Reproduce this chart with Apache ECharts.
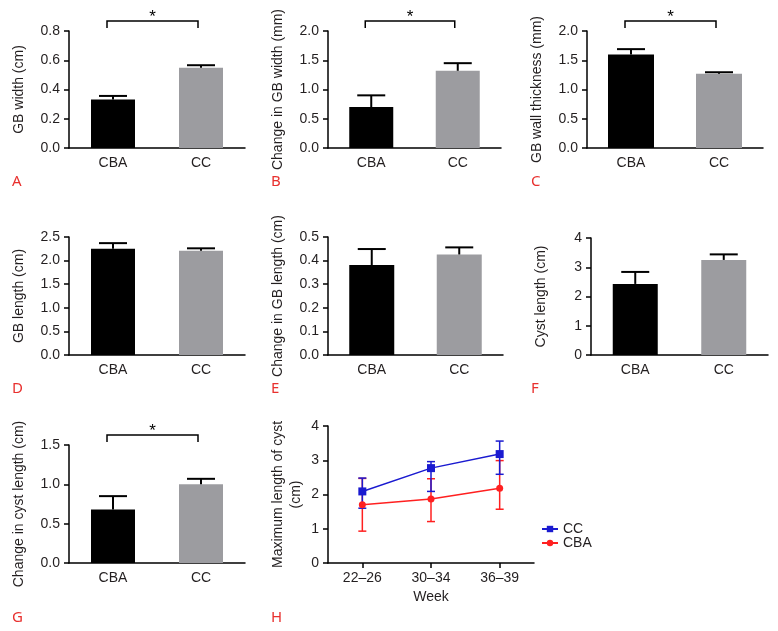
<!DOCTYPE html>
<html>
<head>
<meta charset="utf-8">
<script src="https://cdn.jsdelivr.net/npm/echarts@6/dist/echarts.min.js"></script>
<style>
  html, body { margin: 0; padding: 0; background: #fff; }
  #chart { width: 778px; height: 631px; }
</style>
</head>
<body>
<div id="chart"></div>
<script>
// group names on the bar panels
const barCats = ['CBA', 'CC'];

// bar panels A-G: mean and upper error
const gbWidth = [0.332, 0.548];
const gbWidthErr = [0.024, 0.018];
const gbWidthChange = [0.70, 1.32];
const gbWidthChangeErr = [0.20, 0.13];
const wallThickness = [1.60, 1.27];
const wallThicknessErr = [0.09, 0.025];
const gbLength = [2.25, 2.21];
const gbLengthErr = [0.12, 0.05];
const gbLengthChange = [0.381, 0.426];
const gbLengthChangeErr = [0.068, 0.030];
const cystLength = [2.43, 3.25];
const cystLengthErr = [0.41, 0.19];
const cystLengthChange = [0.68, 1.00];
const cystLengthChangeErr = [0.17, 0.07];

// panel H: cyst length by week
const weeks = ['22\u201326', '30\u201334', '36\u201339'];
const ccMean = [2.09, 2.77, 3.18];
const ccLow = [1.60, 2.09, 2.59];
const ccHigh = [2.48, 2.96, 3.56];
const cbaMean = [1.70, 1.87, 2.18];
const cbaLow = [0.93, 1.21, 1.57];
const cbaHigh = [2.47, 2.46, 2.99];

const barColors = ['#000000', '#9c9ca0'];
const txt = '#231f20';
const font = 'Liberation Sans, Arial, sans-serif';

const panels = [
  { letter: 'A', name: 'GB width (cm)', mean: gbWidth, err: gbWidthErr, max: 0.8, step: 0.2, dec: 1,
    grid: { left: 69, top: 31, width: 176, height: 117 }, bw: 44, sig: 0.868, letterPos: [12, 182] },
  { letter: 'B', name: 'Change in GB width (mm)', mean: gbWidthChange, err: gbWidthChangeErr, max: 2, step: 0.5, dec: 1,
    grid: { left: 328, top: 31, width: 173, height: 117 }, bw: 44, sig: 2.17, letterPos: [271, 182] },
  { letter: 'C', name: 'GB wall thickness (mm)', mean: wallThickness, err: wallThicknessErr, max: 2, step: 0.5, dec: 1,
    grid: { left: 587, top: 31, width: 176, height: 117 }, bw: 46, sig: 2.17, letterPos: [531, 182] },
  { letter: 'D', name: 'GB length (cm)', mean: gbLength, err: gbLengthErr, max: 2.5, step: 0.5, dec: 1,
    grid: { left: 69, top: 237, width: 176, height: 118 }, bw: 44, letterPos: [12, 389] },
  { letter: 'E', name: 'Change in GB length (cm)', mean: gbLengthChange, err: gbLengthChangeErr, max: 0.5, step: 0.1, dec: 1,
    grid: { left: 328, top: 237, width: 175, height: 118 }, bw: 45, letterPos: [271, 389] },
  { letter: 'F', name: 'Cyst length (cm)', mean: cystLength, err: cystLengthErr, max: 4, step: 1, dec: 0,
    grid: { left: 591, top: 238, width: 177, height: 117 }, bw: 45, letterPos: [531, 389] },
  { letter: 'G', name: 'Change in cyst length (cm)', mean: cystLengthChange, err: cystLengthChangeErr, max: 1.5, step: 0.5, dec: 1,
    grid: { left: 69, top: 445, width: 176, height: 118 }, bw: 44, sig: 1.627, letterPos: [12, 618] }
];

const grids = [], xAxes = [], yAxes = [], series = [], graphics = [];

function yAxisFor(i, p) {
  return {
    gridIndex: i, type: 'value', min: 0, max: p.max, interval: p.step,
    name: p.name, nameLocation: 'middle', nameGap: 43,
    nameTextStyle: { color: txt, fontSize: 14, fontFamily: font },
    axisLine: { show: true, lineStyle: { color: '#000', width: 1.5 } },
    axisTick: { show: true, length: 5, lineStyle: { color: '#000', width: 1.5 } },
    axisLabel: { color: txt, fontSize: 14, fontFamily: font, margin: 9,
      formatter: v => v.toFixed(p.dec) },
    splitLine: { show: false }
  };
}

panels.forEach((p, i) => {
  grids.push(p.grid);
  xAxes.push({
    gridIndex: i, type: 'category', data: barCats,
    axisLine: { lineStyle: { color: '#000', width: 1.5 } },
    axisTick: { show: false },
    axisLabel: { color: txt, fontSize: 14, fontFamily: font, margin: 8 }
  });
  yAxes.push(yAxisFor(i, p));
  series.push({
    type: 'bar', xAxisIndex: i, yAxisIndex: i, barWidth: p.bw,
    data: p.mean.map((v, k) => ({ value: v, itemStyle: { color: barColors[k] } }))
  });
  // upper error bar only
  series.push({
    type: 'custom', xAxisIndex: i, yAxisIndex: i, z: 3,
    data: p.mean.map((v, k) => [k, v, v + p.err[k]]),
    renderItem: (params, api) => {
      const a = api.coord([api.value(0), api.value(1)]);
      const b = api.coord([api.value(0), api.value(2)]);
      const st = { stroke: '#000', lineWidth: 2 };
      return { type: 'group', children: [
        { type: 'line', shape: { x1: a[0], y1: a[1], x2: b[0], y2: b[1] }, style: st },
        { type: 'line', shape: { x1: b[0] - 14, y1: b[1], x2: b[0] + 14, y2: b[1] }, style: st }
      ] };
    }
  });
  if (p.sig) {
    series.push({
      type: 'custom', xAxisIndex: i, yAxisIndex: i, clip: false, z: 3,
      data: [[0, 1, p.sig]],
      renderItem: (params, api) => {
        const a = api.coord([api.value(0), api.value(2)]);
        const b = api.coord([api.value(1), api.value(2)]);
        const x1 = a[0] - 6, x2 = b[0] - 3, y = a[1];
        return { type: 'group', children: [
          { type: 'polyline', shape: { points: [[x1, y + 7], [x1, y], [x2, y], [x2, y + 7]] },
            style: { stroke: '#000', lineWidth: 1.5, fill: null } },
          { type: 'text', style: { text: '*', x: (x1 + x2) / 2, y: y - 4, align: 'center',
            verticalAlign: 'middle', fontSize: 17, fontFamily: font, fill: '#000' } }
        ] };
      }
    });
  }
  graphics.push({ type: 'text', left: p.letterPos[0], top: p.letterPos[1] - 8,
    style: { text: p.letter, fill: '#e8302e', fontSize: 15, fontFamily: 'Noto Sans, sans-serif' } });
});

// panel H
const h = panels.length;
grids.push({ left: 328, top: 426, width: 206, height: 137 });
xAxes.push({
  gridIndex: h, type: 'category', data: weeks,
  name: 'Week', nameLocation: 'middle', nameGap: 27,
  nameTextStyle: { color: txt, fontSize: 14, fontFamily: font },
  axisLine: { lineStyle: { color: '#000', width: 1.5 } },
  axisTick: { show: true, alignWithLabel: true, length: 5, lineStyle: { color: '#000', width: 1.5 } },
  axisLabel: { color: txt, fontSize: 14, fontFamily: font, margin: 8 }
});
yAxes.push(Object.assign(yAxisFor(h, { name: 'Maximum length of cyst\n(cm)', max: 4, step: 1, dec: 0 }),
  { nameGap: 23, nameTextStyle: { color: txt, fontSize: 14, fontFamily: font, lineHeight: 18 } }));

function errSeries(mean, low, high, color) {
  return {
    type: 'custom', xAxisIndex: h, yAxisIndex: h, z: 2,
    data: mean.map((v, k) => [k, low[k], high[k]]),
    renderItem: (params, api) => {
      const a = api.coord([api.value(0), api.value(1)]);
      const b = api.coord([api.value(0), api.value(2)]);
      const st = { stroke: color, lineWidth: 1.5 };
      return { type: 'group', children: [
        { type: 'line', shape: { x1: a[0], y1: a[1], x2: b[0], y2: b[1] }, style: st },
        { type: 'line', shape: { x1: a[0] - 4, y1: a[1], x2: a[0] + 4, y2: a[1] }, style: st },
        { type: 'line', shape: { x1: b[0] - 4, y1: b[1], x2: b[0] + 4, y2: b[1] }, style: st }
      ] };
    }
  };
}
series.push(errSeries(cbaMean, cbaLow, cbaHigh, '#ff2020'));
series.push(errSeries(ccMean, ccLow, ccHigh, '#1a1ad0'));
series.push({
  name: 'CBA', type: 'line', xAxisIndex: h, yAxisIndex: h, data: cbaMean, z: 4,
  symbol: 'circle', symbolSize: 7, color: '#ff2020', lineStyle: { width: 1.5 }
});
series.push({
  name: 'CC', type: 'line', xAxisIndex: h, yAxisIndex: h, data: ccMean, z: 4,
  symbol: 'rect', symbolSize: 8, color: '#1a1ad0', lineStyle: { width: 1.5 }
});
graphics.push({ type: 'text', left: 271, top: 610,
  style: { text: 'H', fill: '#e8302e', fontSize: 15, fontFamily: 'Noto Sans, sans-serif' } });

const chart = echarts.init(document.getElementById('chart'), null, { renderer: 'canvas' });
chart.setOption({
  animation: false,
  backgroundColor: '#fff',
  legend: {
    data: ['CC', 'CBA'], orient: 'vertical', left: 536, top: 517,
    itemWidth: 16, itemHeight: 8, itemGap: 0,
    textStyle: { color: txt, fontSize: 14, fontFamily: font }
  },
  grid: grids,
  xAxis: xAxes,
  yAxis: yAxes,
  series: series,
  graphic: graphics
});
</script>
</body>
</html>
